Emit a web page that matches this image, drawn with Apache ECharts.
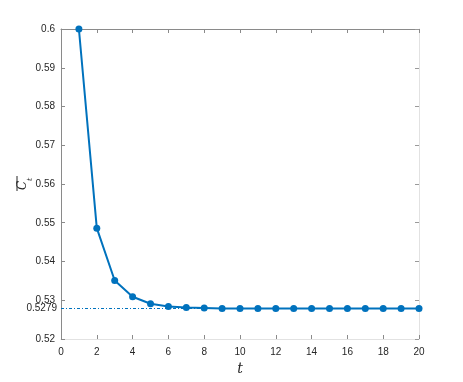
<!DOCTYPE html>
<html><head><meta charset="utf-8">
<script src="https://cdn.jsdelivr.net/npm/echarts@6/dist/echarts.min.js"></script>
<style>html,body{margin:0;padding:0;background:#fff}#c{width:463px;height:382px}</style>
</head><body><div id="c"></div>
<script>
const tValues = [1,2,3,4,5,6,7,8,9,10,11,12,13,14,15,16,17,18,19,20];
const cValues = [0.6000,0.5486,0.5351,0.5309,0.5291,0.5284,0.5281,0.5280,0.5279,0.5279,0.5279,0.5279,0.5279,0.5279,0.5279,0.5279,0.5279,0.5279,0.5279,0.5279];
const limitValue = 0.5279;
const yTicks = [0.52,0.53,0.54,0.55,0.56,0.57,0.58,0.59,0.6];
const xTicks = [0,2,4,6,8,10,12,14,16,18,20];

const chart = echarts.init(document.getElementById('c'), null, {renderer:'canvas'});
const labelFont = {fontFamily:'Liberation Sans, Arial, sans-serif', fontSize:10, color:'#262626'};
const dark = '#8a8a8a', light = '#e2e2e2';
chart.setOption({
  animation:false,
  grid:{left:61,right:44,top:29,bottom:43,containLabel:false},
  xAxis:[{
    type:'value', min:xTicks[0], max:xTicks[xTicks.length-1], interval:2, position:'bottom',
    axisLine:{show:true,onZero:false,lineStyle:{color:light,width:1}},
    axisTick:{show:true,inside:true,length:4,lineStyle:{color:'#8a8a8a'}},
    splitLine:{show:false},
    axisLabel:Object.assign({margin:8, formatter:v=>String(v)}, labelFont),
    name:'t', nameLocation:'middle', nameGap:22,
    nameTextStyle:{fontFamily:'DejaVu Serif, serif', fontStyle:'italic', fontSize:14, color:'#262626'}
  },{
    type:'value', min:xTicks[0], max:xTicks[xTicks.length-1], interval:2, position:'top',
    axisLine:{show:true,onZero:false,lineStyle:{color:dark,width:1}},
    axisTick:{show:true,inside:true,length:4,lineStyle:{color:dark}},
    axisLabel:{show:false}, splitLine:{show:false}
  }],
  yAxis:[{
    type:'value', min:yTicks[0], max:yTicks[yTicks.length-1], interval:0.01, position:'left',
    axisLine:{show:true,onZero:false,lineStyle:{color:dark,width:1}},
    axisTick:{show:true,inside:true,length:4,lineStyle:{color:dark}},
    splitLine:{show:false},
    axisLabel:Object.assign({margin:6, formatter:v=>String(parseFloat(v.toFixed(2)))}, labelFont)
  },{
    type:'value', min:yTicks[0], max:yTicks[yTicks.length-1], interval:0.01, position:'right',
    axisLine:{show:true,onZero:false,lineStyle:{color:light,width:1}},
    axisTick:{show:true,inside:true,length:4,lineStyle:{color:'#9a9a9a'}},
    axisLabel:{show:false}, splitLine:{show:false}
  }],
  series:[{
    type:'line',
    data:tValues.map((t,i)=>[t,cValues[i]]),
    symbol:'circle', symbolSize:7,
    itemStyle:{color:'#0072BD'},
    lineStyle:{color:'#0072BD',width:2},
    z:3,
    markLine:{
      silent:true, symbol:['none','none'],
      lineStyle:{color:'#0072BD',width:1,type:[3,2,1,2]},
      label:Object.assign({show:true, position:'start', distance:4, formatter:String(limitValue)}, labelFont),
      data:[[{coord:[0,limitValue]},{coord:[20,limitValue]}]]
    }
  }],
  graphic:[{
    type:'group', x:24, y:184, rotation:Math.PI/2,
    children:[
      {type:'text', x:-6, y:-7, style:{text:'C', font:'italic 12px "DejaVu Serif", serif', fill:'#262626'}},
      {type:'text', x:3, y:2, style:{text:'t', font:'italic 8px "DejaVu Serif", serif', fill:'#262626'}},
      {type:'line', shape:{x1:-7,y1:-7,x2:8,y2:-7}, style:{stroke:'#262626',lineWidth:1}}
    ]
  }]
});
</script></body></html>
